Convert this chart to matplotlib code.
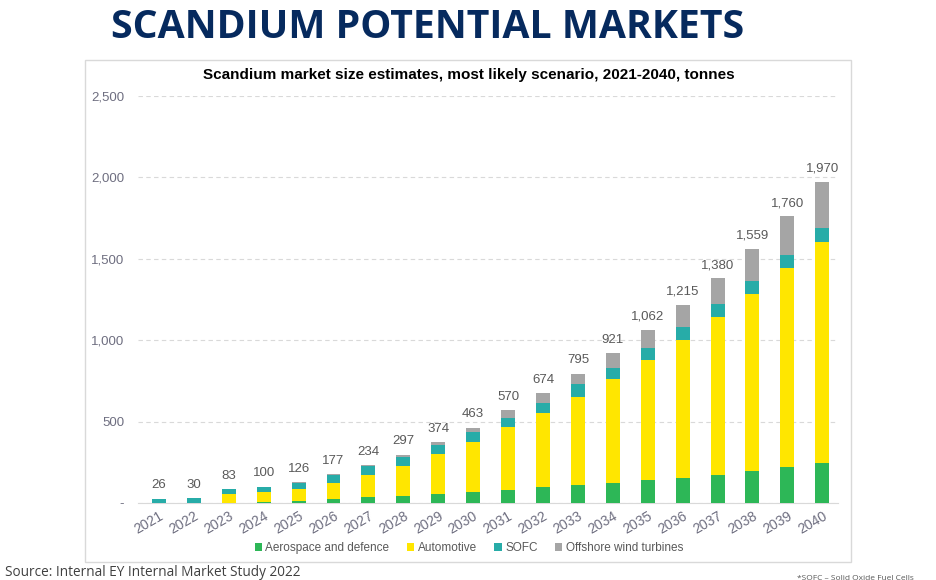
import matplotlib.pyplot as plt
from matplotlib.patches import Rectangle
import numpy as np

plt.rcParams['font.family'] = ['Liberation Sans', 'DejaVu Sans']

# data (tonnes)
years = [str(y) for y in range(2021, 2041)]
aerospace = [0, 0, 2, 8, 14, 22, 34, 45, 57, 67, 80, 96, 110, 125, 141, 155, 174, 194, 221, 243]
automotive = [0, 0, 51, 59, 72, 102, 139, 184, 241, 308, 384, 454, 544, 635, 740, 848, 966, 1087, 1222, 1361]
sofc = [26, 30, 30, 31, 37, 46, 52, 55, 58, 60, 61, 67, 74, 72, 73, 80, 80, 84, 83, 86]
wind = [0, 0, 0, 2, 3, 7, 9, 13, 18, 28, 45, 57, 67, 89, 108, 132, 160, 194, 234, 280]
totals = [26, 30, 83, 100, 126, 177, 234, 297, 374, 463, 570, 674, 795, 921, 1062, 1215, 1380, 1559, 1760, 1970]

series = [
    ("Aerospace and defence", aerospace, "#2db757"),
    ("Automotive", automotive, "#ffe600"),
    ("SOFC", sofc, "#27aca8"),
    ("Offshore wind turbines", wind, "#a5a5a5"),
]

W, H = 937, 580
fig = plt.figure(figsize=(W / 100, H / 100), dpi=100)
label_grey = "#6e6e80"

# big slide title
fig.text(428 / W, 1 - 27 / H, "SCANDIUM POTENTIAL MARKETS", ha="center", va="center",
         fontsize=28.3, fontweight="bold", color="#062a5e", family="Open Sans")

# chart frame
fig.add_artist(Rectangle((85 / W, 1 - 562 / H), (851 - 85) / W, (562 - 60) / H,
                         transform=fig.transFigure, fill=False, edgecolor="#d9d9d9", lw=1))
fig.text(469 / W, 1 - 75 / H,
         "Scandium market size estimates, most likely scenario, 2021-2040, tonnes",
         ha="center", va="center", fontsize=11, fontweight="bold", color="black")

ax = fig.add_axes([138 / W, 1 - 503 / H, (838 - 138) / W, (503 - 96) / H])
x = np.arange(len(years))
bottom = np.zeros(len(years))
for name, vals, col in series:
    ax.bar(x, vals, 0.4, bottom=bottom, color=col, label=name, zorder=3)
    bottom += np.array(vals)

for xi, t in zip(x, totals):
    ax.text(xi, t + 45, f"{t:,}", ha="center", va="bottom", fontsize=9.5, color="#595959")

ax.set_ylim(0, 2500)
ax.set_xlim(-0.6, 19.45)
ax.set_yticks([0, 500, 1000, 1500, 2000, 2500])
ax.set_yticklabels(["-", "500", "1,000", "1,500", "2,000", "2,500"])
ax.set_xticks(x)
ax.set_xticklabels(years, rotation=30, ha="right", rotation_mode="anchor")
ax.tick_params(axis="both", length=0, labelcolor=label_grey)
ax.tick_params(axis="y", pad=10, labelsize=9.5)
ax.tick_params(axis="x", pad=4, labelsize=10)
ax.grid(axis="y", color="#d9d9d9", linestyle=(0, (4, 3)), lw=0.8, zorder=0)
for s in ["top", "right", "left"]:
    ax.spines[s].set_visible(False)
ax.spines["bottom"].set_color("#d9d9d9")

fig.legend(loc="center", bbox_to_anchor=(469 / W, 1 - 548 / H), ncol=4, frameon=False,
           fontsize=8.5, handlelength=0.6, handleheight=0.6, handletextpad=0.3,
           columnspacing=1.5, labelcolor="#595959")

fig.text(5 / W, 1 - 572 / H, "Source: Internal EY Internal Market Study 2022",
         ha="left", va="center", fontsize=9.8, color="#404040", family="Open Sans")
fig.text(797 / W, 1 - 578 / H, "*SOFC \u2013 Solid Oxide Fuel Cells",
         ha="left", va="center", fontsize=6, color="#595959", family="Open Sans")

fig.savefig("out.png", dpi=100)
